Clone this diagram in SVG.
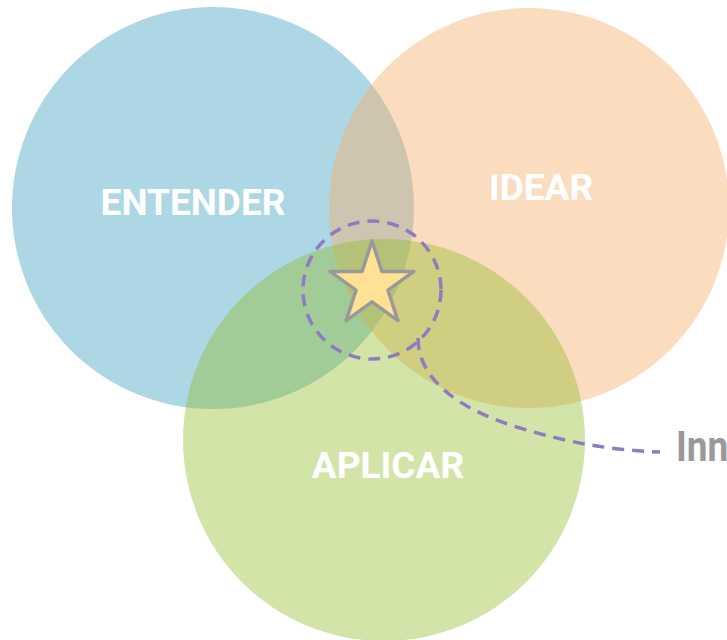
<svg xmlns="http://www.w3.org/2000/svg" width="727" height="640" viewBox="0 0 727 640">
<style>
.lbl{font-family:Roboto,"Liberation Sans",sans-serif;font-weight:bold;fill:#ffffff;text-anchor:middle;font-size:37px}
.dash{fill:none;stroke:#8E7CC3;stroke-width:3.5;stroke-dasharray:12 8}
</style>
<rect width="727" height="640" fill="#ffffff"/>
<g id="entender">
<circle cx="213" cy="208" r="201" fill="#ADD7E4"/>
<text class="lbl" x="193" y="215">ENTENDER</text>
</g>
<g id="idear">
<circle cx="529" cy="208" r="200" fill="#F8AE68" fill-opacity="0.43"/>
</g>
<g id="aplicar">
<circle cx="384" cy="440" r="201" fill="#8EBB26" fill-opacity="0.4"/>
<text class="lbl" x="388" y="478">APLICAR</text>
</g>
<text class="lbl" x="541" y="200">IDEAR</text>
<g id="connectors">
<circle class="dash" cx="372" cy="290" r="69"/>
<path class="dash" d="M418 338 C418 380 460 410 520 428 C570 443 610 450 660 452"/>
</g>
<g id="star">
<polygon points="372,241 381.9,271.4 413.9,271.4 388,290.2 397.9,320.6 372,301.8 346.1,320.6 356,290.2 330.1,271.4 362.1,271.4" fill="#FFE194" stroke="#999999" stroke-width="3.5" stroke-linejoin="round"/>
</g>
<g id="innovacion">
<text transform="translate(676,461) scale(0.88,1)" x="0" y="0" font-family="Roboto,'Liberation Sans',sans-serif" font-weight="bold" font-size="42" fill="#999999">Innovación</text>
</g>
</svg>
